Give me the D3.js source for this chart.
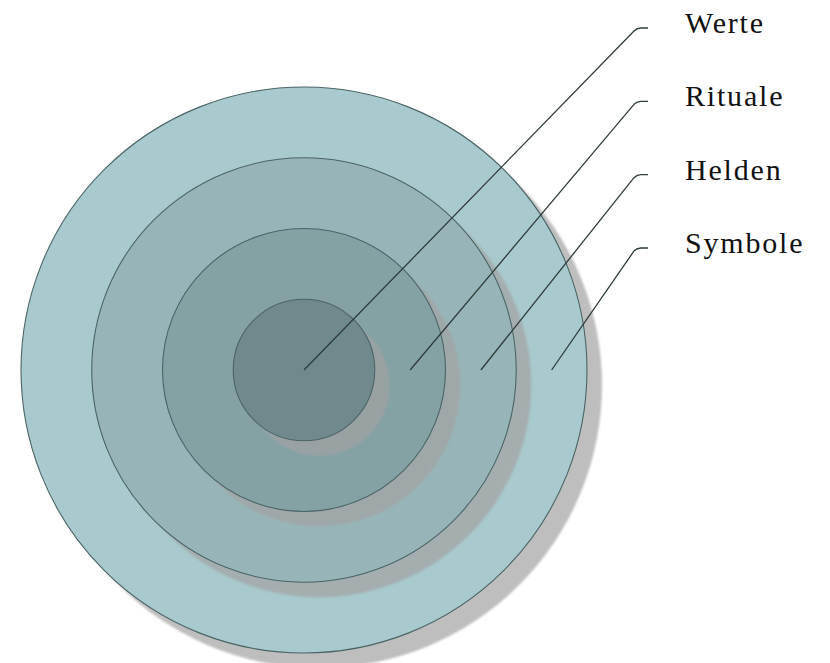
<!DOCTYPE html>
<html>
<head>
<meta charset="utf-8">
<script src="https://cdn.jsdelivr.net/npm/d3@7"></script>
<style>
  html, body { margin: 0; padding: 0; background: #fff; }
  svg { display: block; }
</style>
</head>
<body>
<script>
// layers of the onion, inside out
const layers = ["Werte", "Rituale", "Helden", "Symbole"];
const levels = [1, 2, 3, 4];
const fills = ["#6f898c", "#84a1a4", "#97b5b8", "#a8c9cd"];

const width = 830, height = 663;
const cx = 304, cy = 370;

const r = d3.scaleLinear().domain([0, 4]).range([0, 283]);
const labelY = d3.scalePoint().domain(layers).range([33, 253]);

const svg = d3.select("body").append("svg")
    .attr("width", width)
    .attr("height", height);

const defs = svg.append("defs");
defs.append("filter").attr("id", "soft")
    .append("feGaussianBlur").attr("stdDeviation", 0.8);

// draw outer first, each with its own shadow
const order = d3.range(layers.length).reverse();

const g = svg.append("g");
order.forEach(i => {
  g.append("circle")
      .attr("cx", cx + 15)
      .attr("cy", cy + 15)
      .attr("r", r(levels[i]))
      .attr("fill", "#a3a3a3")
      .attr("fill-opacity", 0.7)
      .attr("filter", "url(#soft)");
  g.append("circle")
      .attr("cx", cx)
      .attr("cy", cy)
      .attr("r", r(levels[i]))
      .attr("fill", fills[i])
      .attr("stroke", "#4a6466")
      .attr("stroke-width", 1.1);
});

// leader lines
const tx = 637;
const lines = svg.append("g")
    .attr("fill", "none")
    .attr("stroke", "#2f3c3d")
    .attr("stroke-width", 1.3);

lines.selectAll("path")
  .data(layers)
  .join("path")
    .attr("d", (d, i) => {
      const sx = cx + (i === 0 ? 0 : r(levels[i] - 0.5));
      const ty = labelY(d) - 5;
      return `M${sx},${cy} L${tx - 3},${ty + 3} Q${tx},${ty} ${tx + 4},${ty} L${tx + 11},${ty}`;
    });

svg.append("g")
  .selectAll("text")
  .data(layers)
  .join("text")
    .attr("x", 685)
    .attr("y", d => labelY(d))
    .attr("font-family", "'Liberation Serif', 'Times New Roman', serif")
    .attr("font-size", 30)
    .attr("letter-spacing", 1.8)
    .attr("fill", "#111")
    .text(d => d);
</script>
</body>
</html>
